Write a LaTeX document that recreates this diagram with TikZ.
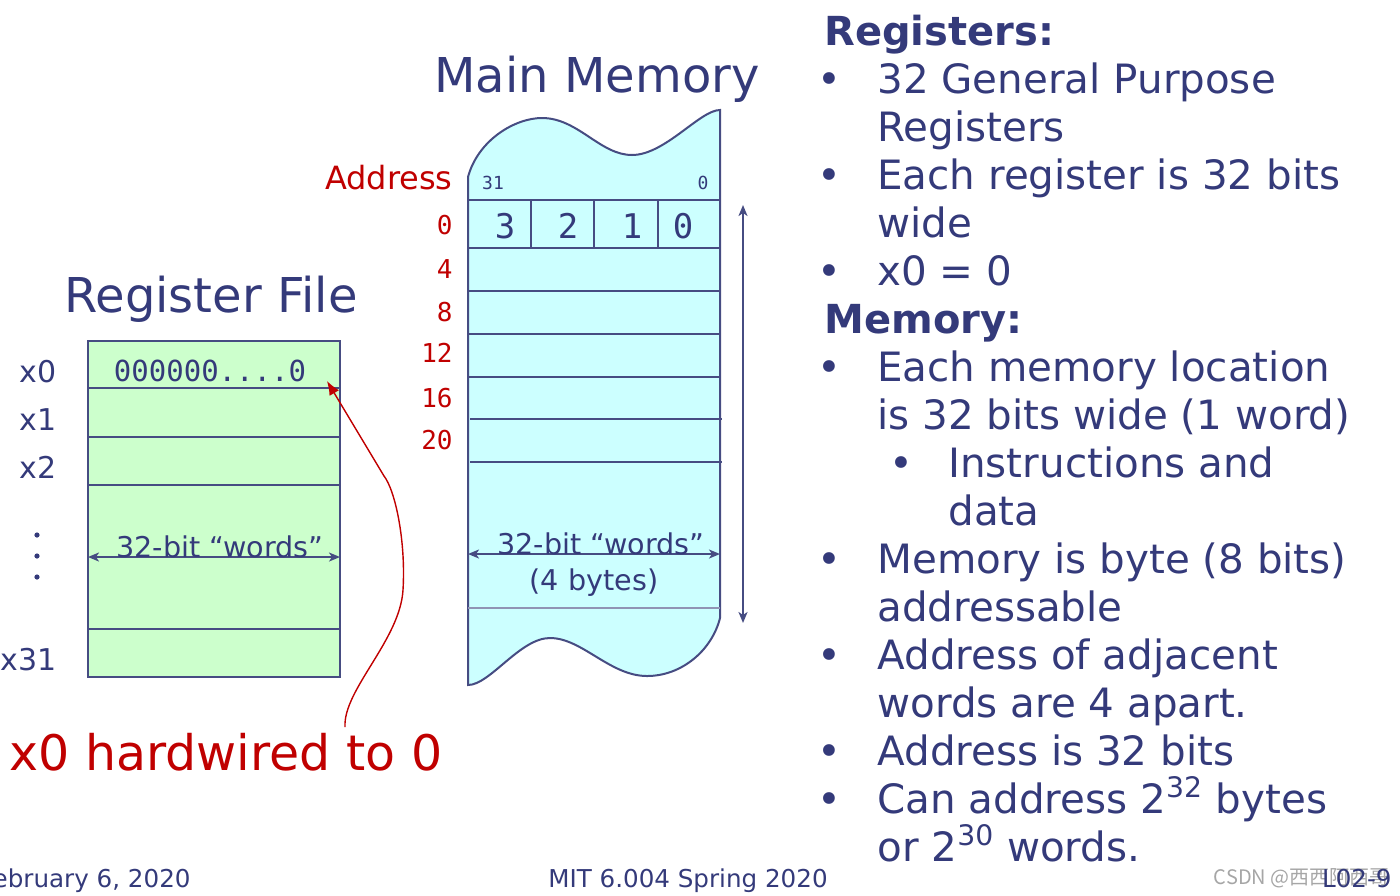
\documentclass[tikz,border=0pt]{standalone}
\usepackage{fontspec}
\setmainfont{DejaVu Sans}
\setmonofont{DejaVu Sans Mono}
\newfontfamily\cjkfont{Noto Sans CJK SC}
\usetikzlibrary{arrows,arrows.meta,positioning}
\definecolor{slide}{RGB}{52,58,122}
\definecolor{edge}{RGB}{70,76,130}
\definecolor{hot}{RGB}{192,0,0}
\definecolor{regfill}{RGB}{204,255,204}
\definecolor{memfill}{RGB}{204,255,255}

\begin{document}
\begin{tikzpicture}[x=0.5pt,y=-0.5pt,>={Stealth[length=5.5pt,width=4.5pt,inset=1.5pt]},inner sep=0pt]
  \tikzstyle{title}=[text=slide,font=\fontsize{24}{28}\selectfont]
  \tikzstyle{body}=[text=slide,font=\fontsize{20.2}{24}\selectfont,anchor=base west]
  \tikzstyle{head}=[text=slide,font=\fontsize{20}{24}\selectfont\bfseries,anchor=base west]
  \tikzstyle{reglabel}=[text=slide,font=\fontsize{15}{18}\selectfont,anchor=base east]
  \tikzstyle{addr}=[text=hot,font=\ttfamily\fontsize{13}{15}\selectfont,anchor=base east]
  \tikzstyle{cell}=[text=slide,font=\ttfamily\fontsize{17}{20}\selectfont,anchor=base]
  \tikzstyle{rule}=[draw=edge,line width=1pt]
  \tikzstyle{span}=[rule,<->]
  \tikzstyle{note}=[text=slide,font=\fontsize{14.3}{18}\selectfont,anchor=base]
  \tikzstyle{foot}=[text=slide,font=\fontsize{12.3}{15}\selectfont,anchor=base]
  \useasboundingbox (0,0) rectangle (1400,895);

  % register file
  \node[title,anchor=base] (rftitle) at (211,312) {Register File};
  \filldraw[rule,fill=regfill] (88,341) rectangle (340,677);
  \foreach \y in {388,437,485,629}
    \draw[rule] (88,\y) -- (340,\y);
  \node[reglabel] (x0) at (57,382) {x0};
  \node[reglabel] (x1) at (57,430) {x1};
  \node[reglabel] (x2) at (57,478) {x2};
  \node[reglabel] (x31) at (57,670) {x31};
  \foreach \y in {535,556,577}
    \fill[slide] (37,\y) circle (2.6);
  \node[cell,font=\ttfamily\fontsize{14.5}{17}\selectfont] (zero) at (210,381) {000000....0};
  \coordinate (rfL) at (88,557);
  \coordinate (rfR) at (340,557);
  \draw[span] (rfL) -- (rfR);
  \node[note] (rfword) at (220,557) {32-bit “words”};

  % x0 note
  \node[text=hot,font=\fontsize{24.5}{28}\selectfont,anchor=base] (hw) at (226,770) {x0 hardwired to 0};
  \coordinate (hwfrom) at (345,727);
  \coordinate (hwto) at (327,381);
  \draw[hot,line width=0.7pt,-{Latex[length=7pt,width=5.5pt]}] (hwfrom) .. controls (343,690) and (400,640) .. (403,590)
    .. controls (406,540) and (395,490) .. (384,476) -- (hwto);

  % main memory
  \node[title,anchor=base] (mmtitle) at (597,92) {Main Memory};
  \filldraw[rule,fill=memfill] (468,177) .. controls (478,140) and (515,118) .. (542,118)
    .. controls (578,118) and (600,155) .. (632,155) .. controls (665,155) and (700,110) .. (720,110)
    -- (720,618) .. controls (712,650) and (682,676) .. (647,676)
    .. controls (610,676) and (582,638) .. (550,638) .. controls (520,638) and (490,685) .. (468,685) -- cycle;
  \draw[rule] (468,200) -- (720,200);
  \foreach \x in {531,594,658}
    \draw[rule] (\x,200) -- (\x,248);
  \foreach \y in {248,291,334,377}
    \draw[rule] (468,\y) -- (720,\y);
  \foreach \y in {419,462}
    \draw[rule] (470,\y) -- (722,\y);
  \draw[draw=edge!60,line width=0.6pt] (468,608) -- (720,608);
  \node[cell,font=\ttfamily\fontsize{9}{10}\selectfont] (b31) at (493,189) {31};
  \node[cell,font=\ttfamily\fontsize{9}{10}\selectfont] (b0) at (703,189) {0};
  \node[cell] (byte3) at (505,238) {3};
  \node[cell] (byte2) at (568,238) {2};
  \node[cell] (byte1) at (632,238) {1};
  \node[cell] (byte0) at (683,238) {0};
  \node[text=hot,font=\fontsize{16}{20}\selectfont,anchor=base east] (address) at (453,189) {Address};
  \foreach \a/\y in {0/224,4/268,8/311,12/352,16/397,20/439}
    \node[addr] (a\a) at (453,\y+10) {\a};
  \coordinate (mmL) at (468,554);
  \coordinate (mmR) at (720,554);
  \draw[span] (mmL) -- (mmR);
  \node[note] (mmword) at (601,554) {32-bit “words”};
  \node[note] (mmbytes) at (594,590) {(4 bytes)};
  \coordinate (top) at (743,205);
  \coordinate (bottom) at (743,623);
  \draw[span] (top) -- (bottom);

  % notes on the right
  \node[head] (regs) at (824,45) {Registers:};
  \node[head] (mems) at (824,333) {Memory:};
  \foreach \n/\t in {1/{32 General Purpose},2/{Registers},3/{Each register is 32 bits},4/{wide},
      5/{x0 = 0},7/{Each memory location},8/{is 32 bits wide (1 word)},11/{Memory is byte (8 bits)},
      12/{addressable},13/{Address of adjacent},14/{words are 4 apart.},15/{Address is 32 bits},
      16/{Can address 2\textsuperscript{32} bytes},17/{or 2\textsuperscript{30} words.}}
    \node[body] (line\n) at (877,{45+48*\n}) {\t};
  \node[body] (line9) at (948,477) {Instructions and};
  \node[body] (line10) at (948,525) {data};
  \foreach \n in {1,3,5,7,11,13,15,16}
    \node[body,anchor=base] (dot\n) at (829,{45+48*\n}) {•};
  \node[body,anchor=base] (dot9) at (901,477) {•};

  % footer
  \node[foot,anchor=base east] (date) at (191,887) {February 6, 2020};
  \node[foot] (course) at (688,887) {MIT 6.004 Spring 2020};
  \node[text=gray!70,font=\cjkfont\fontsize{10}{12}\selectfont,anchor=base east] (mark) at (1390,884) {CSDN @西西阿西哥};
  \node[foot,anchor=base east] (page) at (1392,887) {L02-9};
\end{tikzpicture}
\end{document}
